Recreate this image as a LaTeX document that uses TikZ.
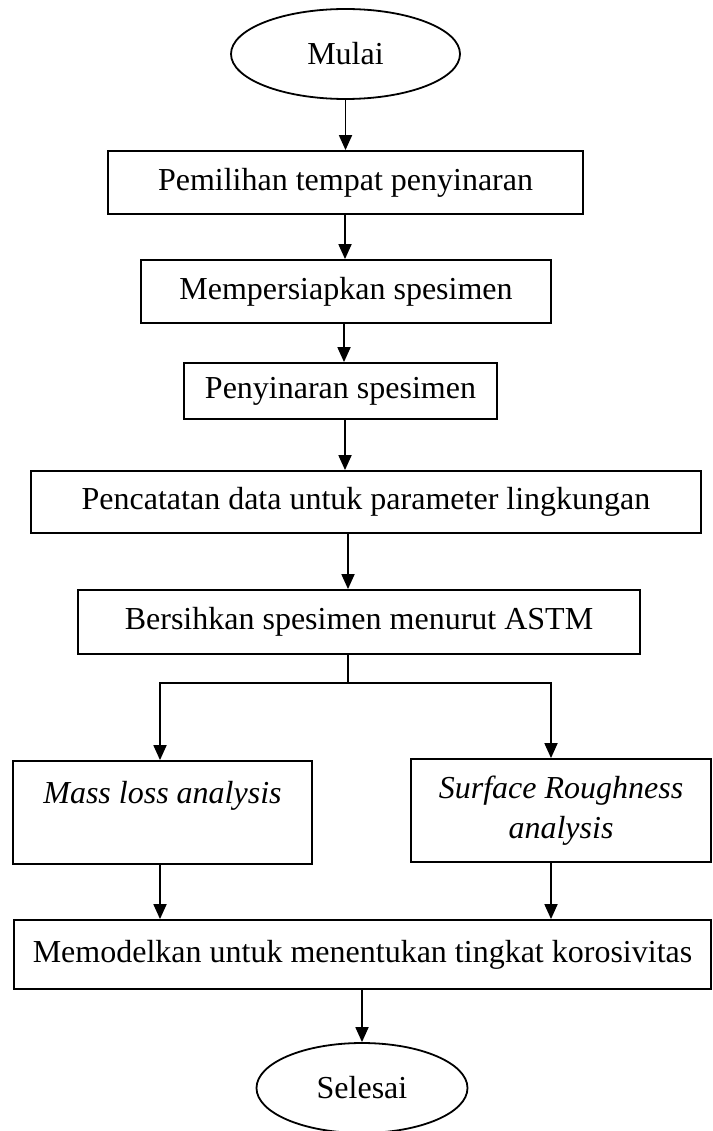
\documentclass[tikz,border=0pt]{standalone}
\usepackage{fontspec}
\setmainfont{Liberation Serif}
\usetikzlibrary{arrows.meta,shapes.geometric}
\begin{document}
\begin{tikzpicture}[x=1pt,y=-1pt,
  every node/.style={font=\fontsize{32}{40}\selectfont},
  boxnode/.style={draw,line width=1.8pt,rectangle,inner sep=4pt,align=center},
  ovalnode/.style={draw,line width=1.8pt,ellipse,inner sep=0pt},
  arr/.style={line width=1.8pt,-{Triangle[length=15pt,width=13pt]}},
  ln/.style={line width=1.8pt}]
\useasboundingbox (0,0) rectangle (712,1131);
\node[ovalnode,minimum width=229pt,minimum height=90pt] (mulai) at (345.5,54) {Mulai};
\node[boxnode,minimum width=475pt,minimum height=63pt] (pemilihan) at (345.5,182.5) {Pemilihan tempat penyinaran};
\node[boxnode,minimum width=410pt,minimum height=63pt] (persiapan) at (346,291.5) {Mempersiapkan spesimen};
\node[boxnode,minimum width=313pt,minimum height=56pt] (penyinaran) at (340.5,391) {Penyinaran spesimen};
\node[boxnode,minimum width=670pt,minimum height=62pt] (pencatatan) at (366,502) {Pencatatan data untuk parameter lingkungan};
\node[boxnode,minimum width=562pt,minimum height=64pt] (bersihkan) at (359,622) {Bersihkan spesimen menurut ASTM};
\node[boxnode,minimum width=299pt,minimum height=103pt] (mass) at (162.5,812.5) {\itshape Mass loss analysis\\ ~};
\node[boxnode,minimum width=300pt,minimum height=103pt] (surface) at (561,810.5) {\itshape Surface Roughness\\ \itshape analysis};
\node[boxnode,minimum width=697pt,minimum height=69pt] (model) at (362.5,954.5) {Memodelkan untuk menentukan tingkat korosivitas};
\node[ovalnode,minimum width=211pt,minimum height=90pt] (selesai) at (362,1088) {Selesai};
\coordinate (split) at (348,683);
\draw[arr] (mulai) -- (mulai |- pemilihan.north);
\draw[arr] (pemilihan.south -| 345,0) -- (persiapan.north -| 345,0);
\draw[arr] (persiapan.south -| 344,0) -- (penyinaran.north -| 344,0);
\draw[arr] (penyinaran.south -| 345,0) -- (pencatatan.north -| 345,0);
\draw[arr] (pencatatan.south -| split) -- (bersihkan.north -| split);
\draw[ln] (bersihkan.south -| split) -- (split);
\draw[arr] (split) -| (mass.north -| 160,0);
\draw[arr] (split) -| (surface.north -| 551,0);
\draw[arr] (mass.south -| 160,0) -- (model.north -| 160,0);
\draw[arr] (surface.south -| 551,0) -- (model.north -| 551,0);
\draw[arr] (model.south -| selesai) -- (selesai);
\end{tikzpicture}
\end{document}
